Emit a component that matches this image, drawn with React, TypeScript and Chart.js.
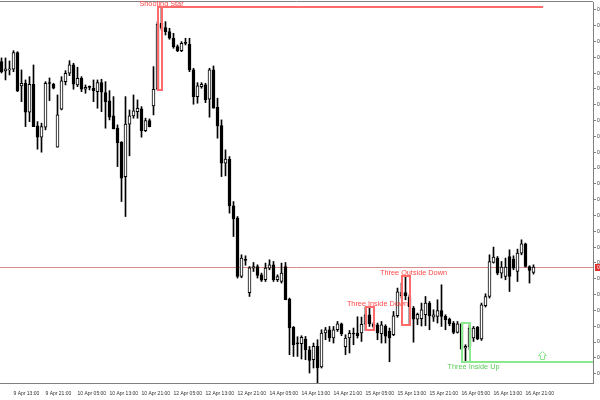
import { useEffect, useRef } from 'react';
import { Chart, registerables } from 'chart.js';

Chart.register(...registerables);

// ---- candle data (hourly OHLC) ----
const opens = [
  0.78323, 0.78230, 0.78240, 0.78247, 0.78413, 0.78080, 0.78107, 0.77817, 0.78097, 0.77680,
  0.77567, 0.77667, 0.78105, 0.78097, 0.77467, 0.77847, 0.78123, 0.78207, 0.78290, 0.78090,
  0.78157, 0.78047, 0.78067, 0.78057, 0.78023, 0.78113, 0.78013, 0.77930, 0.77780, 0.77657,
  0.77517, 0.77173, 0.77697, 0.77780, 0.77823, 0.77850, 0.77633, 0.77733, 0.77880, 0.78047,
  0.78707, 0.78663, 0.78623, 0.78557, 0.78473, 0.78433, 0.78507, 0.78497, 0.78240, 0.77973,
  0.78073, 0.78090, 0.77947, 0.78240, 0.77867, 0.77683, 0.77307, 0.77347, 0.76880, 0.76757,
  0.76173, 0.76340, 0.76010, 0.76257, 0.76273, 0.76190, 0.76140, 0.76257, 0.76290, 0.76140,
  0.76123, 0.76273, 0.75947, 0.75663, 0.75500, 0.75500, 0.75547, 0.75440, 0.75340, 0.75473,
  0.75267, 0.75607, 0.75640, 0.75557, 0.75640, 0.75700, 0.75470, 0.75557, 0.75600, 0.75607,
  0.75607, 0.75695, 0.75790, 0.75700, 0.75690, 0.75600, 0.75675, 0.75623, 0.75590, 0.75780,
  0.75980, 0.76013, 0.75970, 0.75857, 0.75747, 0.75750, 0.75790, 0.75907, 0.75767, 0.75773,
  0.75833, 0.75773, 0.75747, 0.75707, 0.75613, 0.75700, 0.75457, 0.75473, 0.75557, 0.75667,
  0.75547, 0.75880, 0.75973, 0.76313, 0.76357, 0.76207, 0.76173, 0.76373, 0.76347, 0.76223,
  0.76407, 0.76500, 0.76273, 0.76213,
];
const highs = [
  0.78360, 0.78360, 0.78330, 0.78433, 0.78423, 0.78240, 0.78140, 0.78173, 0.78290, 0.77723,
  0.77707, 0.78123, 0.78160, 0.78107, 0.77990, 0.78173, 0.78233, 0.78333, 0.78307, 0.78267,
  0.78173, 0.78090, 0.78080, 0.78140, 0.78140, 0.78147, 0.78123, 0.78033, 0.77973, 0.77690,
  0.77523, 0.77973, 0.77840, 0.77990, 0.77940, 0.77873, 0.77757, 0.77750, 0.78273, 0.78720,
  0.78873, 0.78723, 0.78657, 0.78607, 0.78490, 0.78523, 0.78557, 0.78557, 0.78257, 0.78113,
  0.78113, 0.78107, 0.78257, 0.78280, 0.77957, 0.77740, 0.77440, 0.77373, 0.76923, 0.76773,
  0.76390, 0.76380, 0.76273, 0.76313, 0.76290, 0.76207, 0.76307, 0.76340, 0.76323, 0.76190,
  0.76307, 0.76313, 0.75957, 0.75673, 0.75570, 0.75580, 0.75573, 0.75473, 0.75507, 0.75540,
  0.75640, 0.75663, 0.75673, 0.75673, 0.75723, 0.75707, 0.75590, 0.75633, 0.75657, 0.75770,
  0.75767, 0.75867, 0.75867, 0.75713, 0.75707, 0.75723, 0.75690, 0.75657, 0.75823, 0.76057,
  0.76107, 0.76180, 0.75990, 0.75873, 0.75807, 0.75907, 0.75973, 0.75923, 0.75840, 0.75940,
  0.76090, 0.75790, 0.75757, 0.75723, 0.75723, 0.75707, 0.75490, 0.75690, 0.75673, 0.75673,
  0.75907, 0.76000, 0.76390, 0.76467, 0.76373, 0.76323, 0.76357, 0.76440, 0.76380, 0.76447,
  0.76540, 0.76507, 0.76280, 0.76290,
];
const lows = [
  0.78210, 0.78140, 0.78190, 0.78223, 0.78023, 0.77923, 0.77673, 0.77723, 0.77673, 0.77447,
  0.77417, 0.77640, 0.77933, 0.78050, 0.77467, 0.77840, 0.78090, 0.78183, 0.78047, 0.78073,
  0.78023, 0.78007, 0.78040, 0.77923, 0.77857, 0.77823, 0.77657, 0.77740, 0.77650, 0.77273,
  0.76923, 0.76773, 0.77380, 0.77757, 0.77757, 0.77567, 0.77623, 0.77670, 0.77790, 0.78040,
  0.78640, 0.78590, 0.78547, 0.78457, 0.78423, 0.78423, 0.78490, 0.78223, 0.77897, 0.77907,
  0.78057, 0.77913, 0.77767, 0.77857, 0.77557, 0.77173, 0.77180, 0.76807, 0.76573, 0.76157,
  0.76160, 0.76285, 0.75973, 0.76223, 0.76157, 0.76123, 0.76123, 0.76240, 0.76123, 0.76123,
  0.76107, 0.75940, 0.75390, 0.75373, 0.75373, 0.75347, 0.75340, 0.75207, 0.75257, 0.75090,
  0.75257, 0.75540, 0.75523, 0.75507, 0.75623, 0.75580, 0.75390, 0.75407, 0.75490, 0.75557,
  0.75523, 0.75633, 0.75673, 0.75657, 0.75540, 0.75507, 0.75507, 0.75320, 0.75580, 0.75765,
  0.75957, 0.75940, 0.75683, 0.75515, 0.75690, 0.75677, 0.75680, 0.75640, 0.75723, 0.75707,
  0.75673, 0.75640, 0.75680, 0.75600, 0.75607, 0.75440, 0.75313, 0.75440, 0.75523, 0.75540,
  0.75533, 0.75867, 0.75957, 0.76307, 0.76190, 0.76157, 0.76140, 0.76023, 0.76240, 0.76123,
  0.76390, 0.76267, 0.76107, 0.76197,
];
const closes = [
  0.78223, 0.78250, 0.78250, 0.78413, 0.78030, 0.78107, 0.77817, 0.78097, 0.77673, 0.77567,
  0.77673, 0.78107, 0.78104, 0.78057, 0.77790, 0.78130, 0.78207, 0.78290, 0.78097, 0.78157,
  0.78047, 0.78067, 0.78066, 0.78033, 0.78113, 0.78017, 0.77923, 0.77767, 0.77650, 0.77513,
  0.77157, 0.77697, 0.77780, 0.77830, 0.77857, 0.77633, 0.77733, 0.77673, 0.78047, 0.78700,
  0.78657, 0.78623, 0.78557, 0.78473, 0.78433, 0.78507, 0.78506, 0.78240, 0.77973, 0.78080,
  0.78097, 0.77940, 0.78240, 0.77857, 0.77680, 0.77307, 0.77347, 0.76880, 0.76750, 0.76173,
  0.76357, 0.76335, 0.76260, 0.76273, 0.76183, 0.76135, 0.76257, 0.76290, 0.76140, 0.76173,
  0.76207, 0.75940, 0.75657, 0.75490, 0.75499, 0.75563, 0.75440, 0.75333, 0.75473, 0.75257,
  0.75607, 0.75640, 0.75557, 0.75640, 0.75700, 0.75600, 0.75557, 0.75605, 0.75597, 0.75580,
  0.75695, 0.75790, 0.75700, 0.75673, 0.75607, 0.75690, 0.75575, 0.75557, 0.75780, 0.76020,
  0.76013, 0.75980, 0.75870, 0.75747, 0.75795, 0.75840, 0.75907, 0.75780, 0.75790, 0.75833,
  0.75773, 0.75740, 0.75700, 0.75613, 0.75700, 0.75447, 0.75473, 0.75657, 0.75657, 0.75547,
  0.75890, 0.75973, 0.76323, 0.76367, 0.76207, 0.76267, 0.76267, 0.76173, 0.76257, 0.76407,
  0.76500, 0.76273, 0.76233, 0.76267,
];

// ---- time axis labels (bar index -> label) ----
const timeLabels = [
  '9 Apr 13:00', '9 Apr 21:00', '10 Apr 05:00', '10 Apr 13:00', '10 Apr 21:00',
  '12 Apr 05:00', '12 Apr 13:00', '12 Apr 21:00', '14 Apr 05:00', '14 Apr 13:00',
  '14 Apr 21:00', '15 Apr 05:00', '15 Apr 13:00', '15 Apr 21:00', '16 Apr 05:00',
  '16 Apr 13:00', '16 Apr 21:00',
];
const timeLabelBars = [3, 11, 19, 27, 35, 43, 51, 59, 67, 75, 83, 91, 99, 107, 115, 123, 131];

// ---- price axis ----
const priceTickFirst = 0.752;
const priceTickStep = 0.001583;
const priceTickCount = 24;
const priceMin = 0.75107;
const priceMax = 0.7892;
const barMin = -0.375;
const barMax = 147.875;

// ---- candlestick pattern annotations ----
const patternNames = ['Shooting Star', 'Three Inside Down', 'Three Outside Down', 'Three Inside Up'];
const patternFirstBar = [39, 91, 100, 115];
const patternLastBar = [40, 93, 102, 117];
const patternBullish = [false, false, false, true];
const patternTextBar = [40, 94, 103, 118];
// level lines drawn from a pattern's extreme
const levelPattern = [0, 3];
const levelFromBar = [40, 117];
const levelToBar = [135.4, 150];
// up arrow signal
const arrowBar = 135;
const arrowPrice = 0.7543;

const RED = '#ff6a6a';
const RED_TEXT = '#ff4848';
const GREEN = '#8ce88c';
const GREEN_TEXT = '#5ccc5c';
const FRAME = '#808080';
const BID = '#d88a8a';
const AXIS_FONT = "'Liberation Sans Narrow', 'Liberation Sans', Arial, sans-serif";
const NOTE_FONT = "7.3px 'Liberation Sans', Arial, sans-serif";

const overlay = {
  id: 'mtOverlay',
  beforeDatasetsDraw(chart: any) {
    const { ctx, chartArea: ca, scales } = chart;
    const y = scales.y;
    const py = Math.round(y.getPixelForValue(closes[closes.length - 1])) + 0.5;
    ctx.save();
    ctx.lineWidth = 1;
    ctx.strokeStyle = BID;
    ctx.beginPath();
    ctx.moveTo(ca.left, py);
    ctx.lineTo(ca.right, py);
    ctx.stroke();
    ctx.strokeStyle = FRAME;
    ctx.beginPath();
    ctx.moveTo(ca.left, ca.top - 0.5);
    ctx.lineTo(ca.right, ca.top - 0.5);
    ctx.stroke();
    ctx.restore();
  },
  afterDatasetsDraw(chart: any) {
    const { ctx, chartArea: ca, scales } = chart;
    const x = scales.x;
    const y = scales.y;
    ctx.save();
    const boxes: { top: number; bottom: number }[] = [];
    patternNames.forEach((name, i) => {
      let hi = -Infinity;
      let lo = Infinity;
      for (let k = patternFirstBar[i]; k <= patternLastBar[i]; k++) {
        hi = Math.max(hi, highs[k]);
        lo = Math.min(lo, lows[k]);
      }
      const x0 = Math.round(x.getPixelForValue(patternFirstBar[i]));
      const x1 = Math.round(x.getPixelForValue(patternLastBar[i]));
      const y0 = Math.round(y.getPixelForValue(hi));
      const y1 = Math.round(y.getPixelForValue(lo));
      boxes.push({ top: hi, bottom: lo });
      ctx.lineWidth = 2;
      ctx.strokeStyle = patternBullish[i] ? GREEN : RED;
      ctx.strokeRect(x0, y0, x1 - x0, y1 - y0);
      ctx.font = NOTE_FONT;
      ctx.textAlign = 'center';
      ctx.textBaseline = 'alphabetic';
      ctx.fillStyle = patternBullish[i] ? GREEN_TEXT : RED_TEXT;
      const tx = x.getPixelForValue(patternTextBar[i]);
      const ty = patternBullish[i] ? y1 + 6.8 : y0 - 0.6;
      ctx.fillText(name, tx, ty);
    });
    // level lines
    ctx.save();
    ctx.beginPath();
    ctx.rect(ca.left, 0, ca.right - ca.left, ca.bottom);
    ctx.clip();
    levelPattern.forEach((p, j) => {
      const price = patternBullish[p] ? boxes[p].bottom : boxes[p].top;
      const py = Math.round(y.getPixelForValue(price));
      ctx.lineWidth = 2;
      ctx.strokeStyle = patternBullish[p] ? GREEN : RED;
      ctx.beginPath();
      ctx.moveTo(x.getPixelForValue(levelFromBar[j]), py);
      ctx.lineTo(x.getPixelForValue(levelToBar[j]), py);
      ctx.stroke();
    });
    ctx.restore();
    // arrow
    const ax = Math.round(x.getPixelForValue(arrowBar)) + 0.5;
    const ay = Math.round(y.getPixelForValue(arrowPrice)) + 0.5;
    ctx.lineWidth = 1;
    ctx.strokeStyle = GREEN;
    ctx.beginPath();
    ctx.moveTo(ax, ay);
    ctx.lineTo(ax + 4, ay + 4);
    ctx.lineTo(ax + 2, ay + 4);
    ctx.lineTo(ax + 2, ay + 8);
    ctx.lineTo(ax - 2, ay + 8);
    ctx.lineTo(ax - 2, ay + 4);
    ctx.lineTo(ax - 4, ay + 4);
    ctx.closePath();
    ctx.stroke();
    ctx.restore();
  },
  afterDraw(chart: any) {
    const { ctx, chartArea: ca, scales } = chart;
    const y = scales.y;
    const last = closes[closes.length - 1];
    const py = Math.round(y.getPixelForValue(last));
    ctx.save();
    ctx.fillStyle = '#e03030';
    ctx.fillRect(ca.right + 2, py - 3, 12, 7);
    ctx.fillStyle = '#ffffff';
    ctx.font = `5px ${AXIS_FONT}`;
    ctx.textAlign = 'left';
    ctx.textBaseline = 'middle';
    ctx.fillText(last.toFixed(5), ca.right + 4, py + 0.5);
    ctx.restore();
  },
};

export default function App() {
  const ref = useRef<HTMLCanvasElement>(null);
  useEffect(() => {
    document.body.style.margin = '0';
    const canvas = ref.current;
    if (!canvas) return;
    const chart = new Chart(canvas, {
      type: 'bar',
      data: {
        datasets: [
          {
            label: 'wick',
            data: lows.map((l, i) => ({ x: i, y: [l, highs[i]] })) as any,
            backgroundColor: '#000000',
            borderWidth: 0,
            barThickness: 1,
            grouped: false,
            order: 2,
          },
          {
            label: 'body',
            data: opens.map((o, i) => ({ x: i, y: [o, closes[i]] })) as any,
            backgroundColor: opens.map((o, i) => (closes[i] >= o ? '#ffffff' : '#000000')),
            borderColor: '#000000',
            borderWidth: 1,
            borderSkipped: false,
            barThickness: 3,
            minBarLength: 1,
            grouped: false,
            order: 1,
          },
        ],
      },
      options: {
        animation: false,
        responsive: false,
        maintainAspectRatio: false,
        layout: { padding: { top: 2, left: 0, right: 0, bottom: 0 } },
        plugins: { legend: { display: false }, tooltip: { enabled: false } },
        scales: {
          x: {
            type: 'linear',
            min: barMin,
            max: barMax,
            offset: false,
            grid: { drawOnChartArea: false, drawTicks: false, color: FRAME },
            border: { display: true, color: FRAME },
            ticks: {
              autoSkip: false,
              maxRotation: 0,
              minRotation: 0,
              align: 'start',
              padding: 7.5,
              color: '#303030',
              font: { family: AXIS_FONT, size: 5 },
              callback: (v: any) => {
                const j = timeLabelBars.indexOf(Number(v));
                return j >= 0 ? timeLabels[j] : '';
              },
            },
            afterBuildTicks: (s: any) => {
              s.ticks = timeLabelBars.map((v) => ({ value: v }));
            },
            afterFit: (s: any) => {
              s.height = 17;
              s.paddingLeft = 0;
              s.paddingRight = 0;
            },
          },
          y: {
            type: 'linear',
            position: 'right',
            min: priceMin,
            max: priceMax,
            grid: { drawOnChartArea: false, drawTicks: true, tickLength: 3, color: FRAME },
            border: { display: true, color: FRAME },
            ticks: {
              autoSkip: false,
              padding: 1,
              color: '#303030',
              font: { family: AXIS_FONT, size: 5 },
              callback: (v: any) => Number(v).toFixed(4),
            },
            afterBuildTicks: (s: any) => {
              const t = [];
              for (let j = 0; j < priceTickCount; j++) t.push({ value: priceTickFirst + j * priceTickStep });
              s.ticks = t;
            },
            afterFit: (s: any) => {
              s.width = 7;
              s.paddingTop = 0;
              s.paddingBottom = 0;
            },
          },
        },
      } as any,
      plugins: [overlay],
    });
    return () => chart.destroy();
  }, []);
  return <canvas ref={ref} width={600} height={400} style={{ display: 'block' }} />;
}
